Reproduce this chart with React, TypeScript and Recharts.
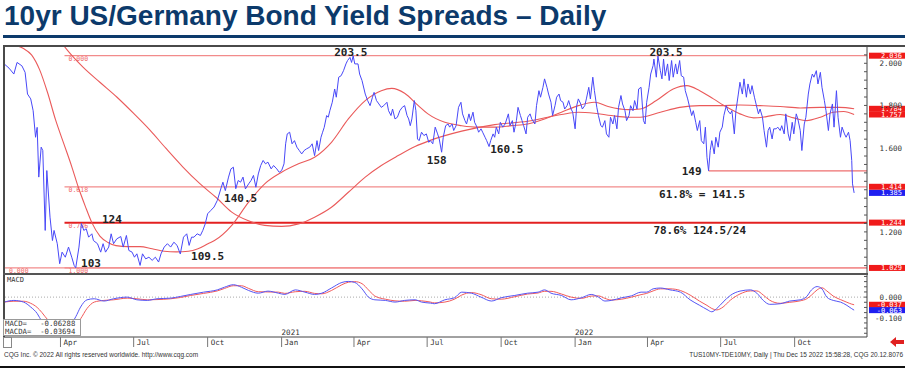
import React from "react";
import {
  LineChart,
  Line,
  XAxis,
  YAxis,
  ReferenceLine,
  ReferenceDot,
} from "recharts";

// days counted from 2020-01-01, spread in %
const spread: [number, number][] = [
  [21, 1.997], [27, 1.977], [33, 1.949], [37, 2.004], [43, 1.988], [47, 1.957], [50, 1.854], [54, 1.831],
  [57, 1.775], [60, 1.649], [62, 1.696], [64, 1.46], [67, 1.602], [69, 1.586], [72, 1.207], [74, 1.491],
  [78, 1.27], [81, 1.159], [83, 1.207], [87, 1.144], [90, 1.049], [93, 1.104], [97, 1.08], [101, 1.128],
  [105, 1.08], [108, 1.041], [110, 1.03], [114, 1.128], [117, 1.24], [120, 1.207], [123, 1.215], [126, 1.175],
  [130, 1.191], [132, 1.159], [137, 1.144], [141, 1.104], [144, 1.144], [147, 1.104], [151, 1.128], [154, 1.191],
  [157, 1.144], [161, 1.167], [166, 1.178], [169, 1.128], [173, 1.183], [176, 1.112], [180, 1.104], [183, 1.08],
  [186, 1.096], [190, 1.041], [193, 1.096], [197, 1.072], [201, 1.08], [205, 1.065], [209, 1.08], [213, 1.057],
  [216, 1.096], [220, 1.128], [224, 1.144], [228, 1.128], [232, 1.151], [236, 1.136], [240, 1.095], [244, 1.175],
  [248, 1.191], [251, 1.136], [254, 1.175], [257, 1.175], [261, 1.191], [265, 1.183], [268, 1.207], [271, 1.238],
  [274, 1.286], [278, 1.302], [282, 1.318], [286, 1.349], [291, 1.412], [293, 1.436], [296, 1.396], [300, 1.46],
  [303, 1.499], [306, 1.507], [309, 1.405], [312, 1.444], [315, 1.436], [318, 1.46], [321, 1.404], [325, 1.428],
  [328, 1.444], [331, 1.468], [334, 1.412], [337, 1.475], [340, 1.515], [343, 1.539], [346, 1.523], [349, 1.531],
  [353, 1.499], [356, 1.515], [360, 1.499], [363, 1.483], [366, 1.491], [369, 1.523], [371, 1.618], [373, 1.665],
  [376, 1.673], [379, 1.618], [382, 1.633], [385, 1.602], [388, 1.586], [391, 1.57], [394, 1.586], [397, 1.594],
  [401, 1.602], [404, 1.618], [407, 1.562], [410, 1.633], [412, 1.586], [415, 1.649], [417, 1.673], [419, 1.696],
  [422, 1.752], [424, 1.744], [426, 1.775], [429, 1.815], [432, 1.878], [434, 1.839], [437, 1.934], [440, 1.941],
  [443, 1.965], [446, 1.997], [448, 2.013], [451, 2.028], [453, 2.004], [455, 2.035], [457, 1.997], [461, 1.997],
  [463, 1.949], [466, 1.918], [470, 1.854], [473, 1.823], [476, 1.799], [479, 1.839], [481, 1.862], [484, 1.823],
  [487, 1.807], [490, 1.791], [493, 1.799], [497, 1.815], [499, 1.775], [502, 1.752], [504, 1.783], [507, 1.736],
  [510, 1.744], [513, 1.775], [516, 1.791], [519, 1.799], [522, 1.752], [524, 1.736], [526, 1.704], [528, 1.736],
  [531, 1.823], [533, 1.775], [535, 1.641], [537, 1.633], [540, 1.673], [543, 1.657], [546, 1.665], [549, 1.625],
  [551, 1.633], [554, 1.618], [557, 1.697], [560, 1.665], [562, 1.641], [565, 1.578], [567, 1.649], [570, 1.704],
  [573, 1.712], [575, 1.697], [578, 1.712], [580, 1.681], [583, 1.704], [586, 1.791], [589, 1.815], [591, 1.76],
  [594, 1.728], [596, 1.712], [599, 1.76], [601, 1.728], [604, 1.768], [606, 1.72], [609, 1.697], [611, 1.673],
  [614, 1.689], [616, 1.673], [619, 1.649], [621, 1.633], [624, 1.605], [626, 1.633], [629, 1.665], [631, 1.649],
  [633, 1.697], [636, 1.665], [638, 1.72], [641, 1.697], [644, 1.712], [648, 1.76], [650, 1.704], [653, 1.728],
  [655, 1.673], [658, 1.728], [660, 1.791], [663, 1.752], [665, 1.728], [667, 1.704], [670, 1.665], [672, 1.744],
  [675, 1.76], [677, 1.736], [681, 1.712], [683, 1.799], [686, 1.87], [688, 1.839], [691, 1.886], [693, 1.926],
  [696, 1.886], [698, 1.854], [701, 1.815], [703, 1.752], [706, 1.799], [708, 1.839], [711, 1.854], [713, 1.823],
  [716, 1.815], [718, 1.783], [721, 1.799], [723, 1.823], [726, 1.783], [728, 1.768], [731, 1.689], [733, 1.799],
  [735, 1.831], [738, 1.807], [740, 1.783], [743, 1.799], [745, 1.831], [748, 1.886], [750, 1.831], [753, 1.934],
  [755, 1.87], [758, 1.791], [760, 1.752], [763, 1.704], [765, 1.697], [768, 1.728], [770, 1.665], [773, 1.649],
  [775, 1.744], [778, 1.712], [780, 1.752], [783, 1.689], [785, 1.791], [788, 1.847], [790, 1.807], [793, 1.775],
  [795, 1.728], [798, 1.752], [800, 1.799], [803, 1.775], [805, 1.823], [808, 1.783], [810, 1.878], [813, 1.886],
  [816, 1.728], [818, 1.712], [820, 1.815], [823, 1.886], [825, 1.949], [828, 1.989], [829, 2.02], [832, 1.934],
  [834, 2.035], [837, 1.965], [839, 1.926], [841, 2.02], [843, 1.941], [846, 1.997], [848, 1.918], [851, 2.013],
  [853, 1.934], [856, 1.997], [858, 1.949], [861, 2.013], [863, 1.941], [866, 1.934], [868, 1.87], [871, 1.831],
  [873, 1.799], [876, 1.752], [878, 1.775], [881, 1.72], [883, 1.681], [886, 1.728], [888, 1.633], [891, 1.618],
  [893, 1.697], [895, 1.554], [897, 1.49], [899, 1.586], [901, 1.633], [904, 1.57], [906, 1.649], [909, 1.602],
  [911, 1.673], [914, 1.697], [916, 1.752], [919, 1.799], [921, 1.775], [924, 1.76], [926, 1.775], [929, 1.665],
  [931, 1.775], [934, 1.854], [936, 1.91], [939, 1.854], [941, 1.926], [944, 1.839], [946, 1.902], [949, 1.854],
  [951, 1.894], [954, 1.839], [956, 1.807], [959, 1.76], [961, 1.783], [964, 1.744], [966, 1.681], [969, 1.602],
  [971, 1.681], [973, 1.697], [976, 1.641], [978, 1.689], [981, 1.689], [983, 1.697], [986, 1.681], [988, 1.704],
  [991, 1.665], [993, 1.76], [996, 1.665], [998, 1.633], [1001, 1.72], [1003, 1.665], [1006, 1.76], [1008, 1.736],
  [1011, 1.681], [1013, 1.586], [1016, 1.712], [1018, 1.744], [1021, 1.854], [1023, 1.902], [1026, 1.949], [1028, 1.934],
  [1031, 1.965], [1033, 1.902], [1036, 1.957], [1038, 1.886], [1041, 1.823], [1043, 1.775], [1046, 1.681], [1048, 1.76],
  [1051, 1.807], [1053, 1.697], [1056, 1.87], [1058, 1.744], [1061, 1.649], [1063, 1.697], [1066, 1.665], [1068, 1.649],
  [1071, 1.673], [1073, 1.633], [1075, 1.539], [1076, 1.428], [1078, 1.385],
];

const maFast: [number, number][] = [
  [22, 2.1], [35, 2.085], [45, 2.07], [55, 2.04], [65, 1.97], [75, 1.86], [85, 1.73], [95, 1.62],
  [105, 1.51], [113, 1.414], [122, 1.32], [130, 1.244], [140, 1.18], [150, 1.15], [160, 1.135], [175, 1.13],
  [190, 1.13], [205, 1.12], [220, 1.108], [235, 1.105], [250, 1.108], [262, 1.12], [275, 1.145], [283, 1.16],
  [304, 1.231], [325, 1.341], [345, 1.428], [366, 1.483], [387, 1.523], [407, 1.554], [428, 1.625], [449, 1.736],
  [470, 1.823], [490, 1.87], [503, 1.881], [519, 1.858], [536, 1.799], [548, 1.76], [569, 1.72], [590, 1.704],
  [610, 1.697], [631, 1.697], [652, 1.704], [672, 1.712], [693, 1.736], [714, 1.768], [735, 1.799], [755, 1.815],
  [772, 1.795], [797, 1.78], [812, 1.783], [832, 1.823], [853, 1.878], [870, 1.894], [886, 1.87], [903, 1.831],
  [920, 1.791], [936, 1.76], [953, 1.741], [969, 1.747], [986, 1.757], [1003, 1.741], [1019, 1.728], [1036, 1.744],
  [1052, 1.768], [1065, 1.771], [1078, 1.757],
];

const maSlow: [number, number][] = [
  [88, 2.12], [100, 2.06], [119, 1.982], [140, 1.91], [161, 1.84], [182, 1.762], [202, 1.684], [222, 1.597],
  [243, 1.509], [264, 1.43], [285, 1.362], [304, 1.294], [324, 1.254], [345, 1.231], [366, 1.226], [387, 1.238],
  [407, 1.27], [428, 1.317], [449, 1.388], [470, 1.46], [490, 1.515], [511, 1.562], [532, 1.605], [550, 1.633],
  [590, 1.678], [631, 1.709], [672, 1.725], [714, 1.757], [735, 1.768], [755, 1.763], [776, 1.752], [797, 1.744],
  [812, 1.744], [837, 1.768], [861, 1.791], [886, 1.799], [911, 1.799], [936, 1.802], [961, 1.799], [986, 1.795],
  [1011, 1.788], [1036, 1.791], [1060, 1.791], [1078, 1.784],
];

const macdDays = [
  21, 33, 45, 54, 62, 68, 72, 79, 91, 103, 110, 116, 124, 133, 145, 157, 174, 186, 199, 211, 228, 240, 253, 269,
  286, 295, 306, 316, 325, 337, 349, 362, 370, 383, 395, 407, 416, 428, 441, 449, 457, 466, 474, 482, 495, 507,
  519, 532, 540, 551, 556, 569, 581, 590, 602, 614, 627, 639, 656, 672, 685, 693, 701, 714, 726, 739, 751, 760,
  768, 776, 789, 801, 813, 820, 828, 837, 849, 862, 874, 886, 895, 901, 907, 915, 924, 936, 949, 957, 965, 973,
  986, 998, 1011, 1019, 1025, 1032, 1038, 1044, 1052, 1061, 1069, 1075, 1078,
];
const macdLine = [
  -0.024, -0.016, -0.024, -0.048, -0.079, -0.119, -0.14, -0.15, -0.15, -0.135, -0.095, -0.048, -0.013, -0.008,
  -0.019, -0.008, 0.0, -0.013, -0.016, -0.008, -0.005, 0.003, 0.013, 0.024, 0.035, 0.048, 0.06, 0.048, 0.032,
  0.019, 0.029, 0.019, 0.013, 0.035, 0.024, 0.013, 0.019, 0.044, 0.071, 0.076, 0.071, 0.04, 0.0, -0.013, -0.016,
  -0.024, -0.016, -0.013, -0.024, -0.029, -0.032, -0.013, -0.003, 0.024, 0.019, 0.0, -0.019, -0.003, 0.008, 0.019,
  0.024, 0.035, 0.019, 0.008, -0.013, -0.003, 0.013, 0.0, -0.019, -0.016, -0.003, 0.006, 0.024, 0.024, 0.04,
  0.044, 0.035, 0.024, -0.013, -0.04, -0.06, -0.071, -0.056, -0.024, 0.008, 0.029, 0.035, 0.019, -0.016, -0.035,
  -0.032, -0.019, -0.013, 0.003, 0.035, 0.051, 0.04, 0.0, -0.016, -0.024, -0.04, -0.056, -0.063,
];
const macdSignal = [
  -0.024, -0.02, -0.02, -0.03, -0.05, -0.075, -0.095, -0.125, -0.15, -0.15, -0.135, -0.105, -0.055, -0.024,
  -0.016, -0.013, -0.005, -0.008, -0.013, -0.012, -0.008, -0.002, 0.008, 0.018, 0.03, 0.042, 0.055, 0.055, 0.042,
  0.026, 0.025, 0.024, 0.018, 0.026, 0.028, 0.018, 0.016, 0.032, 0.06, 0.072, 0.075, 0.065, 0.035, 0.005, -0.01,
  -0.018, -0.02, -0.016, -0.018, -0.024, -0.028, -0.024, -0.01, 0.01, 0.022, 0.012, -0.008, -0.01, 0.002, 0.015,
  0.02, 0.028, 0.028, 0.015, 0.0, -0.006, 0.005, 0.006, -0.006, -0.014, -0.01, 0.0, 0.012, 0.018, 0.03,
  0.04, 0.04, 0.032, 0.01, -0.02, -0.04, -0.055, -0.062, -0.048, -0.015, 0.015, 0.03, 0.03, 0.01, -0.015,
  -0.03, -0.025, -0.018, -0.008, 0.01, 0.035, 0.045, 0.03, 0.005, -0.012, -0.025, -0.034, -0.037,
];

const fibLevels = [2.036, 1.414, 1.244, 1.029];
const fibRatios = ["0.000", "0.618", "0.786", "1.000"];
const fibStartDay = 96;
const lowLine = { start: 22, level: 1.029, text: "0.000" };
const junLow = { start: 897, level: 1.49 };

const notes = [
  { d: 452, v: 2.054, text: "203.5" },
  { d: 844, v: 2.054, text: "203.5" },
  { d: 155, v: 1.262, text: "124" },
  { d: 129, v: 1.053, text: "103" },
  { d: 274, v: 1.087, text: "109.5" },
  { d: 315, v: 1.362, text: "140.5" },
  { d: 559, v: 1.541, text: "158" },
  { d: 646, v: 1.594, text: "160.5" },
  { d: 876, v: 1.489, text: "149" },
  { d: 889, v: 1.38, text: "61.8% = 141.5" },
  { d: 886, v: 1.211, text: "78.6% 124.5/24" },
];

const priceTags = [
  { v: 2.036, text: "2.036", fill: "#f01a1a" },
  { v: 1.784, text: "1.784", fill: "#f01a1a" },
  { v: 1.757, text: "1.757", fill: "#f01a1a" },
  { v: 1.414, text: "1.414", fill: "#f01a1a" },
  { v: 1.385, text: "1.385", fill: "#1f1ff0" },
  { v: 1.244, text: "1.244", fill: "#f01a1a" },
  { v: 1.029, text: "1.029", fill: "#f01a1a" },
];
const macdTags = [
  { v: -0.037, text: "-0.037", fill: "#f01a1a" },
  { v: -0.063, text: "-0.063", fill: "#1f1ff0" },
];

const priceTicks = Array.from({ length: 27 }, (_, i) => +(1.04 + i * 0.04).toFixed(2));
const priceLabelTicks = [1.2, 1.6, 1.8, 2.0];
const macdTicks = Array.from({ length: 12 }, (_, i) => +(-0.175 + i * 0.025).toFixed(3));
const macdLabelTicks = [0, -0.1];

const monthTicks = [91, 182, 274, 366, 456, 547, 639, 731, 821, 912, 1004];
const monthLabels = ["Apr", "Jul", "Oct", "Jan", "Apr", "Jul", "Oct", "Jan", "Apr", "Jul", "Oct"];
const yearLabels: Record<number, string> = { 366: "2021", 731: "2022" };

const X_DOMAIN = [22, 1094];
const MONO = "'DejaVu Sans Mono', monospace";
const SANS = "'Liberation Sans', Arial, sans-serif";

const toPoints = (arr: [number, number][]) => arr.map(([d, v]) => ({ d, v }));
const macdData = macdDays.map((d, i) => ({ d, m: macdLine[i], s: macdSignal[i] }));

const AxisTick = (labels: number[]) => (props: any) => {
  const { x, y, payload } = props;
  const labeled = labels.some((t) => Math.abs(t - payload.value) < 1e-6);
  return (
    <g>
      <line x1={x - 3} y1={y} x2={x} y2={y} stroke="#555" />
      {labeled && (
        <text x={x + 35} y={y + 3} textAnchor="end" fontSize={7.5} fontFamily={MONO} fill="#333">
          {payload.value.toFixed(3)}
        </text>
      )}
    </g>
  );
};

const MonthTick = (props: any) => {
  const { x, y, payload } = props;
  const i = monthTicks.indexOf(payload.value);
  const year = yearLabels[payload.value];
  return (
    <g>
      <line x1={x} y1={y} x2={x} y2={y + 10} stroke="#777" />
      <text x={x + 3} y={y + 8} fontSize={7.5} fontFamily={MONO} fill="#333">
        {monthLabels[i]}
      </text>
      {year && (
        <text x={x} y={y - 2} fontSize={7.5} fontFamily={MONO} fill="#333">
          {year}
        </text>
      )}
    </g>
  );
};

const tagLabel = (text: string, fill: string) => (props: any) => {
  const { x, width, y } = props.viewBox;
  const left = x + width + 2;
  return (
    <g>
      <rect x={left} y={y - 3} width={36} height={6} fill={fill} />
      <text x={left + 33} y={y + 2.5} textAnchor="end" fontSize={7} fontFamily={MONO} fill="#fff">
        {text}
      </text>
    </g>
  );
};

const fibLabel = (text: string) => (props: any) => {
  const { x, y } = props.viewBox;
  return (
    <text x={x + 4} y={y + 5} fontSize={6.5} fontFamily={MONO} fill="#f06a6a">
      {text}
    </text>
  );
};

const noteLabel = (text: string) => (props: any) => {
  const { x, y } = props.viewBox;
  return (
    <text x={x} y={y + 4} textAnchor="middle" fontSize={11} fontWeight="bold" fontFamily={MONO} fill="#222">
      {text}
    </text>
  );
};

const App = () => {
  return (
    <div
      style={{
        position: "absolute",
        left: 0,
        top: 0,
        width: 905,
        height: 373,
        background: "#fff",
        overflow: "hidden",
        fontFamily: SANS,
      }}
    >
      <div
        style={{
          position: "absolute",
          left: 4,
          top: 0,
          fontSize: 28,
          lineHeight: "32px",
          fontWeight: "bold",
          color: "#0c3a6b",
          whiteSpace: "nowrap",
        }}
      >
        10yr US/Germany Bond Yield Spreads – Daily
      </div>
      <div style={{ position: "absolute", left: 3, top: 35, width: 902, height: 3, background: "#0c3a6b" }} />

      <div style={{ position: "absolute", left: 0, top: 0 }}>
        <LineChart width={905} height={274} margin={{ top: 46, right: 0, bottom: 1, left: 5 }}>
          <XAxis type="number" dataKey="d" domain={X_DOMAIN} allowDataOverflow hide />
          <YAxis
            orientation="right"
            type="number"
            width={38}
            domain={[1.005, 2.082]}
            allowDataOverflow
            ticks={priceTicks}
            interval={0}
            tick={AxisTick(priceLabelTicks)}
            tickLine={false}
            tickSize={0}
            tickMargin={0}
            axisLine={{ stroke: "#444" }}
          />
          {fibLevels.map((lv, i) => (
            <ReferenceLine
              key={"fib" + i}
              segment={[
                { x: fibStartDay, y: lv },
                { x: X_DOMAIN[1], y: lv },
              ]}
              stroke={i === 2 ? "#e32020" : "#f28b8b"}
              strokeWidth={i === 2 ? 2 : 1.3}
              label={fibLabel(fibRatios[i])}
            />
          ))}
          <ReferenceLine
            segment={[
              { x: lowLine.start, y: lowLine.level },
              { x: X_DOMAIN[1], y: lowLine.level },
            ]}
            stroke="#f28b8b"
            strokeWidth={1.3}
            label={fibLabel(lowLine.text)}
          />
          <ReferenceLine
            segment={[
              { x: junLow.start, y: junLow.level },
              { x: X_DOMAIN[1], y: junLow.level },
            ]}
            stroke="#ee6f6f"
            strokeWidth={1.3}
          />
          <Line
            data={toPoints(maSlow)}
            dataKey="v"
            type="monotone"
            stroke="#ea5a5a"
            strokeWidth={1.1}
            dot={false}
            isAnimationActive={false}
          />
          <Line
            data={toPoints(maFast)}
            dataKey="v"
            type="monotone"
            stroke="#ea5a5a"
            strokeWidth={1.1}
            dot={false}
            isAnimationActive={false}
          />
          <Line
            data={toPoints(spread)}
            dataKey="v"
            type="linear"
            stroke="#4848f8"
            strokeWidth={1}
            dot={false}
            isAnimationActive={false}
          />
          {notes.map((n, i) => (
            <ReferenceDot
              key={"n" + i}
              x={n.d}
              y={n.v}
              r={0.01}
              fill="none"
              stroke="none"
              label={noteLabel(n.text)}
            />
          ))}
          {priceTags.map((t, i) => (
            <ReferenceLine key={"t" + i} y={t.v} stroke="none" label={tagLabel(t.text, t.fill)} />
          ))}
        </LineChart>
      </div>

      <div style={{ position: "absolute", left: 0, top: 275 }}>
        <LineChart width={905} height={73} data={macdData} margin={{ top: 0, right: 0, bottom: 0, left: 5 }}>
          <XAxis
            type="number"
            dataKey="d"
            domain={X_DOMAIN}
            allowDataOverflow
            ticks={monthTicks}
            interval={0}
            tick={MonthTick}
            tickLine={false}
            tickSize={0}
            tickMargin={0}
            height={11}
            axisLine={{ stroke: "#444" }}
          />
          <YAxis
            orientation="right"
            type="number"
            width={38}
            domain={[-0.193, 0.107]}
            allowDataOverflow
            ticks={macdTicks}
            interval={0}
            tick={AxisTick(macdLabelTicks)}
            tickLine={false}
            tickSize={0}
            tickMargin={0}
            axisLine={{ stroke: "#444" }}
          />
          <ReferenceLine y={0} stroke="#aaa" strokeDasharray="1 2" />
          <Line dataKey="s" type="monotone" stroke="#f25a5a" strokeWidth={1} dot={false} isAnimationActive={false} />
          <Line dataKey="m" type="monotone" stroke="#5555f5" strokeWidth={1} dot={false} isAnimationActive={false} />
          {macdTags.map((t, i) => (
            <ReferenceLine key={"m" + i} y={t.v} stroke="none" label={tagLabel(t.text, t.fill)} />
          ))}
        </LineChart>
      </div>

      {/* panel frames */}
      <div style={{ position: "absolute", left: 3, top: 45, width: 902, height: 2, background: "#4a4a4a" }} />
      <div style={{ position: "absolute", left: 3, top: 45, width: 2, height: 292, background: "#4a4a4a" }} />
      <div style={{ position: "absolute", left: 3, top: 273, width: 865, height: 2, background: "#555" }} />
      <div
        style={{
          position: "absolute",
          left: 7,
          top: 276,
          fontSize: 7,
          color: "#333",
          fontFamily: MONO,
        }}
      >
        MACD
      </div>
      <div
        style={{
          position: "absolute",
          left: 3,
          top: 319,
          width: 78,
          height: 17,
          border: "1px solid #999",
          boxSizing: "border-box",
          background: "#fff",
          fontFamily: MONO,
          fontSize: 7.3,
          lineHeight: "8px",
          color: "#333",
          whiteSpace: "pre",
          paddingLeft: 1,
        }}
      >
        {"MACD=   -0.06288\nMACDA=  -0.03694"}
      </div>
      <div
        style={{
          position: "absolute",
          left: 3,
          top: 337,
          width: 9,
          height: 11,
          border: "1px solid #888",
          boxSizing: "border-box",
          background: "#fff",
        }}
      />
      <svg style={{ position: "absolute", left: 890, top: 337 }} width={14} height={10}>
        <polygon points="0,5 6,0 6,3 14,3 14,7 6,7 6,10" fill="#e02020" />
      </svg>

      <div
        style={{
          position: "absolute",
          left: 4,
          top: 351,
          fontSize: 6.5,
          lineHeight: "8px",
          color: "#333",
          whiteSpace: "nowrap",
        }}
      >
        CQG Inc. © 2022 All rights reserved worldwide. http://www.cqg.com
      </div>
      <div
        style={{
          position: "absolute",
          right: 2,
          top: 351,
          fontSize: 6.5,
          lineHeight: "8px",
          color: "#333",
          whiteSpace: "nowrap",
          textAlign: "right",
        }}
      >
        TUS10MY-TDE10MY, Daily | Thu Dec 15 2022 15:58:28, CQG 20.12.8076
      </div>
      <div style={{ position: "absolute", left: 0, top: 366, width: 905, height: 2, background: "#111" }} />
    </div>
  );
};

export default App;
